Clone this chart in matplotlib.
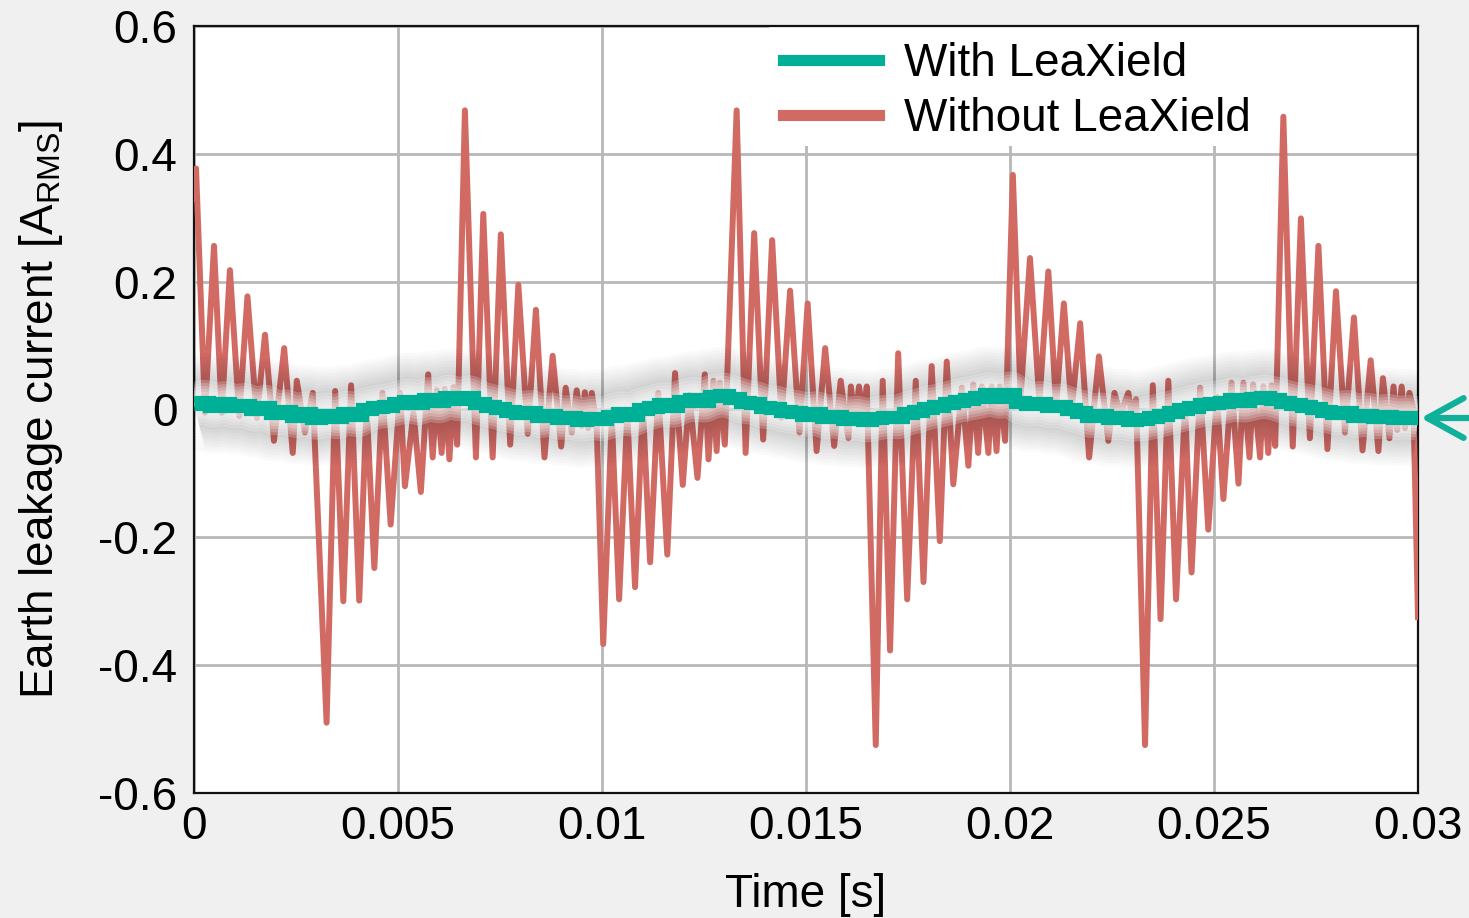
import numpy as np
import matplotlib.pyplot as plt
from matplotlib.lines import Line2D
from matplotlib.patches import Rectangle

plt.rcParams['font.family'] = ['Liberation Sans', 'DejaVu Sans']
plt.rcParams['axes.unicode_minus'] = False
plt.rcParams['mathtext.fontset'] = 'custom'
plt.rcParams['mathtext.rm'] = 'Liberation Sans'

# Without LeaXield: corner points of the trace (time in ms, current in A)
red_t = [0.00, 0.05, 0.27, 0.49, 0.68, 0.88, 1.11, 1.31, 1.54, 1.74, 1.96,
         2.21, 2.42, 2.52, 2.72, 2.91, 3.25, 3.46, 3.66, 3.85, 4.05, 4.23,
         4.42, 4.62, 4.82, 5.05, 5.17, 5.38, 5.56, 5.74, 5.85, 5.95, 6.07,
         6.15, 6.26, 6.36, 6.45, 6.64, 6.91, 7.09, 7.32, 7.52, 7.75, 7.95,
         8.18, 8.38, 8.59, 8.79, 9.00, 9.11, 9.26, 9.38, 9.50, 9.58, 9.66,
         9.75, 9.87, 10.03, 10.24, 10.42, 10.62, 10.81, 11.00, 11.18, 11.38,
         11.60, 11.79, 11.98, 12.14, 12.34, 12.52, 12.61, 12.73, 12.81, 12.89,
         13.01, 13.30, 13.52, 13.73, 13.95, 14.17, 14.40, 14.61, 14.84, 15.04,
         15.26, 15.47, 15.69, 15.85, 16.04, 16.10, 16.20, 16.30, 16.40, 16.49,
         16.71, 16.88, 17.06, 17.26, 17.48, 17.69, 17.88, 18.08, 18.28, 18.45,
         18.61, 18.82, 18.98, 19.10, 19.22, 19.31, 19.47, 19.55, 19.67, 19.75,
         19.88, 20.07, 20.26, 20.49, 20.72, 20.94, 21.13, 21.32, 21.51, 21.72,
         21.94, 22.18, 22.41, 22.56, 22.70, 22.90, 22.98, 23.09, 23.31, 23.50,
         23.69, 23.88, 24.07, 24.29, 24.45, 24.66, 24.86, 25.07, 25.23, 25.43,
         25.60, 25.72, 25.87, 25.96, 26.13, 26.21, 26.33, 26.41, 26.50, 26.70,
         26.93, 27.13, 27.35, 27.56, 27.78, 27.99, 28.21, 28.43, 28.64, 28.84,
         29.03, 29.14, 29.30, 29.40, 29.49, 29.60, 29.68, 29.79, 29.89, 30.00]
red_v = [0.330, 0.377, -0.005, 0.256, -0.005, 0.218, -0.010, 0.177, -0.013, 0.117, -0.049,
         0.096, -0.068, 0.045, -0.036, 0.026, -0.490, 0.029, -0.300, 0.038, -0.299, 0.006,
         -0.248, 0.026, -0.180, 0.026, -0.120, -0.005, -0.129, 0.055, -0.075, 0.030, -0.068,
         0.032, -0.078, 0.035, -0.055, 0.468, -0.075, 0.306, -0.075, 0.274, -0.055, 0.195,
         -0.038, 0.156, -0.075, 0.084, -0.058, 0.034, -0.036, 0.030, -0.026, 0.027, -0.029,
         0.026, -0.026, -0.367, -0.013, -0.297, -0.006, -0.278, 0.006, -0.239, 0.026,
         -0.227, 0.057, -0.118, 0.023, -0.107, 0.055, -0.078, 0.045, -0.065, 0.042,
         -0.055, 0.468, -0.068, 0.276, -0.047, 0.265, -0.013, 0.186, -0.036, 0.166,
         -0.065, 0.096, -0.057, 0.045, -0.045, 0.036, -0.020, 0.036, -0.013, 0.036,
         -0.525, 0.045, -0.377, 0.088, -0.297, 0.045, -0.270, 0.068, -0.206, 0.075,
         -0.117, 0.034, -0.088, 0.039, -0.068, 0.036, -0.068, 0.036, -0.065, 0.036,
         -0.049, 0.367, 0.020, 0.237, 0.013, 0.216, 0.006, 0.166, 0.000, 0.135,
         -0.075, 0.083, -0.049, 0.026, -0.007, 0.026, -0.007, 0.016, -0.525, 0.038,
         -0.328, 0.045, -0.297, 0.006, -0.255, 0.034, -0.188, 0.020, -0.140, 0.042,
         -0.116, 0.042, -0.075, 0.039, -0.075, 0.036, -0.068, 0.038, -0.057, 0.458,
         -0.058, 0.299, -0.045, 0.256, -0.062, 0.185, -0.036, 0.144, -0.064, 0.077,
         -0.065, 0.049, -0.045, 0.036, -0.032, 0.036, -0.029, 0.026, 0.000, -0.325]

# With LeaXield: one reading every 0.25 ms
green_v = [0.008, 0.012, 0.006, 0.010, 0.005,
           0.007, 0.000, 0.004, -0.006,
           -0.003, -0.010, -0.006, -0.013,
           -0.008, -0.012, -0.005, -0.009,
           0.000, 0.004, 0.006, 0.010,
           0.014, 0.010, 0.016, 0.013,
           0.020, 0.016, 0.019, 0.010,
           0.006, 0.002, -0.002, -0.006,
           -0.004, -0.010, -0.008, -0.013,
           -0.012, -0.016, -0.013, -0.015,
           -0.010, -0.006, -0.008, 0.000,
           0.004, 0.008, 0.006, 0.013,
           0.016, 0.014, 0.021, 0.023,
           0.018, 0.012, 0.010, 0.004,
           0.003, -0.002, -0.004, -0.008,
           -0.006, -0.012, -0.010, -0.015,
           -0.013, -0.017, -0.014, -0.011,
           -0.012, -0.006, -0.002, 0.003,
           0.006, 0.010, 0.014, 0.017,
           0.020, 0.024, 0.020, 0.025,
           0.012, 0.008, 0.010, 0.005,
           0.006, 0.000, -0.004, -0.010,
           -0.008, -0.014, -0.012, -0.016,
           -0.015, -0.012, -0.008, -0.004,
           0.000, 0.004, 0.008, 0.010,
           0.012, 0.016, 0.014, 0.018,
           0.020, 0.017, 0.012, 0.008,
           0.006, 0.002, -0.002, -0.006,
           -0.004, -0.010, -0.008, -0.012,
           -0.010, -0.013, -0.012, -0.014]
green_t = np.arange(len(green_v)) * 0.25

x_ticks = [0, 0.005, 0.01, 0.015, 0.02, 0.025, 0.03]
x_labels = ['0', '0.005', '0.01', '0.015', '0.02', '0.025', '0.03']
y_ticks = [-0.6, -0.4, -0.2, 0, 0.2, 0.4, 0.6]
y_labels = ['-0.6', '-0.4', '-0.2', '0', '0.2', '0.4', '0.6']
series_names = ['With LeaXield', 'Without LeaXield']

teal = '#00B096'
red = '#D26A64'
fs = 33

fig = plt.figure(figsize=(14.69, 9.18), dpi=100, facecolor='#f0f0f0')
ax = fig.add_axes([0.13206, 0.13617, 0.83322, 0.83551])
ax.set_facecolor('white')

rt = np.array(red_t) / 1000
gt = green_t / 1000
ax.plot(rt, red_v, color=red, lw=4.3, zorder=3)

# soft shadow around the green trace, lighter in the middle
for w in range(96, 30, -6):
    ax.plot(gt, green_v, color='black', lw=w * 0.72, alpha=0.02,
            solid_capstyle='butt', zorder=4)
for w in range(44, 14, -6):
    ax.plot(gt, green_v, color='white', lw=w * 0.72, alpha=0.22,
            solid_capstyle='butt', zorder=4)
ax.plot(gt, green_v, color=teal, lw=9.5, solid_joinstyle='miter',
        solid_capstyle='butt', drawstyle='steps-mid', zorder=5)

ax.set_xlim(0, 0.03)
ax.set_ylim(-0.6, 0.6)
ax.set_xticks(x_ticks)
ax.set_xticklabels(x_labels)
ax.set_yticks(y_ticks)
ax.set_yticklabels(y_labels)
ax.tick_params(length=0, labelsize=fs)
ax.tick_params(axis='x', pad=9)
ax.tick_params(axis='y', pad=12)
ax.grid(True, color='#b8b8b8', lw=2)
ax.set_axisbelow(True)
for s in ax.spines.values():
    s.set_linewidth(1.6)
    s.set_color('#111111')

ax.set_xlabel('Time [s]', fontsize=fs, labelpad=17)
ax.set_ylabel(r'Earth leakage current [A$_\mathregular{RMS}$]', fontsize=fs, labelpad=24)

# white patch behind the legend, above the 0.4 grid line
ax.add_patch(Rectangle((0.47, 0.843), 0.53, 0.157, transform=ax.transAxes,
                       facecolor='white', edgecolor='none', zorder=1))
handles = [Line2D([], [], color=teal, lw=8), Line2D([], [], color=red, lw=8)]
leg = ax.legend(handles, series_names, loc='upper left', bbox_to_anchor=(0.468, 1.0),
                fontsize=fs, frameon=False, handlelength=2.1, handletextpad=0.55,
                labelspacing=0.25, borderpad=0.35, borderaxespad=0)
leg.set_zorder(2)

# arrow marking the green trace at the right edge
ax.annotate('', xy=(1421, 918 - 418), xycoords='figure pixels',
            xytext=(1475, 918 - 418), textcoords='figure pixels',
            arrowprops=dict(arrowstyle='->, head_length=1.0, head_width=0.55',
                            mutation_scale=26, color='#10B09A', lw=4.5,
                            shrinkA=0, shrinkB=0),
            annotation_clip=False)

fig.savefig('out.png', dpi=100, facecolor=fig.get_facecolor())
